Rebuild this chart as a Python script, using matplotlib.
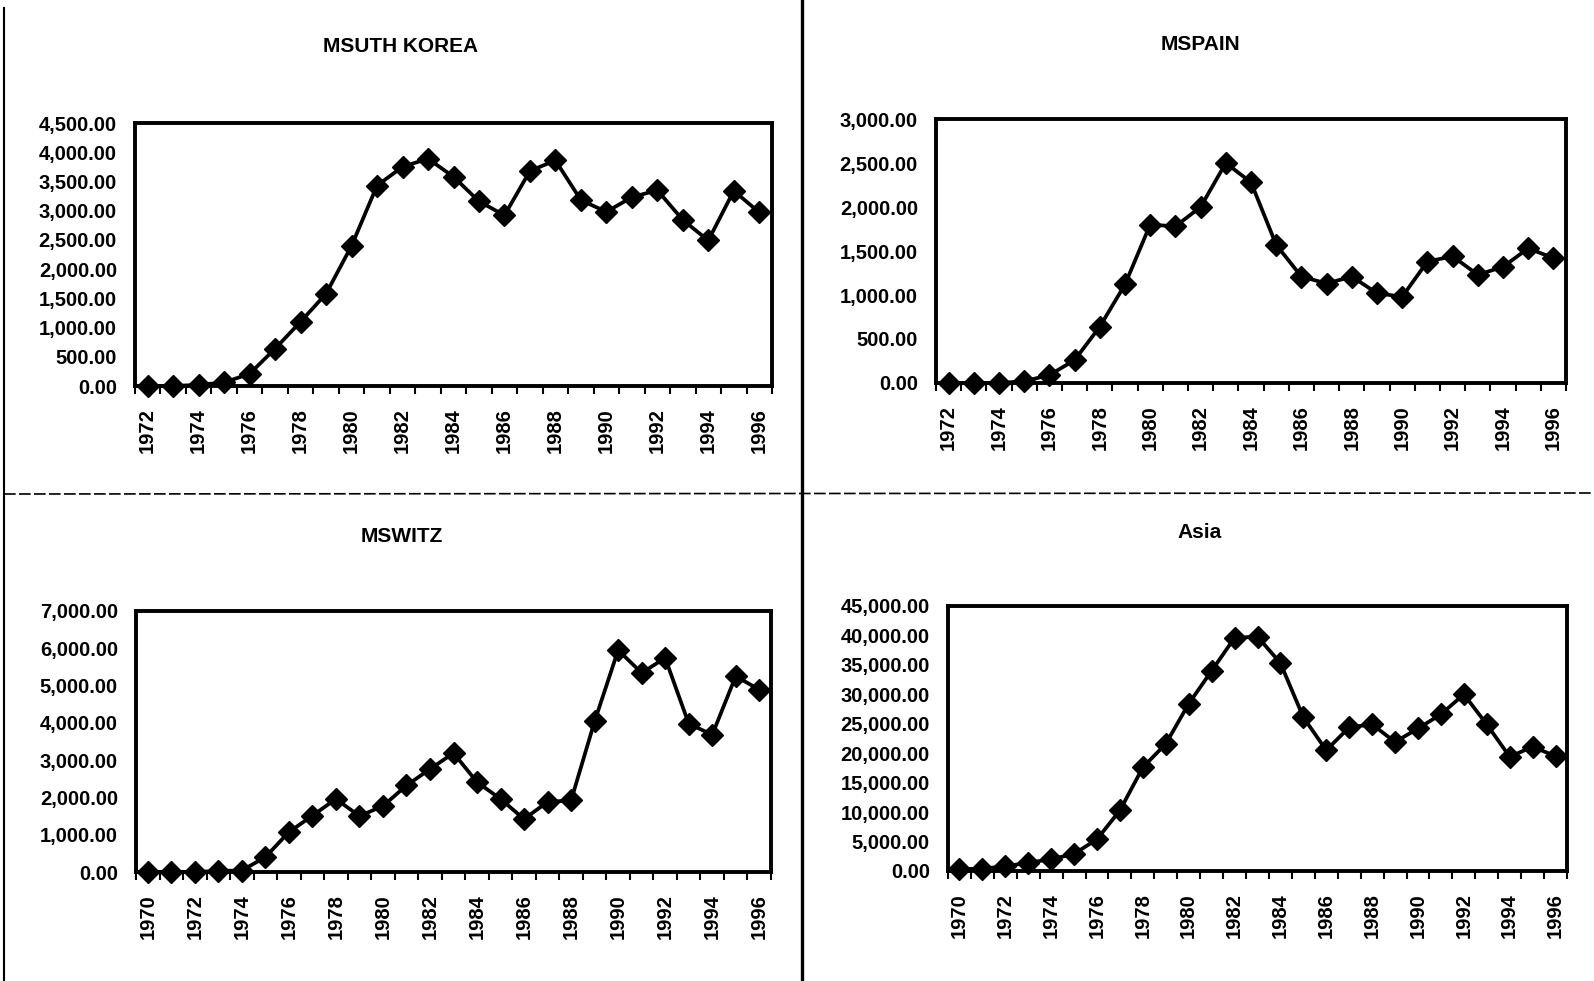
"""Four scanned Excel-style line charts: MSUTH KOREA, MSPAIN, MSWITZ, Asia."""

import matplotlib

matplotlib.use("Agg")
import matplotlib.pyplot as plt
from matplotlib.lines import Line2D
from matplotlib.ticker import FixedLocator, FuncFormatter

# ---- data ----
years_korea = list(range(1972, 1997))
msuth_korea = [0, 0, 20, 60, 210, 640, 1100, 1580, 2400, 3430, 3750, 3890, 3580,
               3160, 2920, 3680, 3860, 3180, 2980, 3230, 3350, 2840, 2490, 3340, 2970]

years_spain = list(range(1972, 1997))
mspain = [0, 0, 0, 20, 90, 260, 640, 1120, 1800, 1780, 2000, 2500, 2280,
          1570, 1210, 1130, 1210, 1020, 980, 1380, 1440, 1230, 1320, 1530, 1420]

years_switz = list(range(1970, 1997))
mswitz = [0, 0, 0, 30, 40, 400, 1070, 1510, 1960, 1500, 1770, 2320, 2760, 3190,
          2410, 1960, 1420, 1880, 1920, 4040, 5950, 5340, 5740, 3980, 3680, 5250, 4890]

years_asia = list(range(1970, 1997))
asia = [300, 400, 800, 1400, 2000, 2900, 5400, 10300, 17600, 21600, 28400, 34000,
        39600, 39800, 35300, 26100, 20500, 24400, 24900, 21900, 24200, 26600,
        30000, 24900, 19400, 21100, 19500]

titles = ["MSUTH KOREA", "MSPAIN", "MSWITZ", "Asia"]
y_max = [4500, 3000, 7000, 45000]
y_step = [500, 500, 1000, 5000]

W, H = 1594, 981
FONT = ["Liberation Sans", "DejaVu Sans"]

plt.rcParams["font.family"] = FONT
plt.rcParams["font.weight"] = "bold"

fig = plt.figure(figsize=(W / 100, H / 100), dpi=100)


def px_axes(x0, y0, x1, y1):
    """Add axes from pixel box (left, top, right, bottom)."""
    return fig.add_axes([x0 / W, 1 - y1 / H, (x1 - x0) / W, (y1 - y0) / H])


def draw_panel(ax, years, values, ymax, ystep):
    n = len(years)
    idx = list(range(n))
    ax.plot(idx, values, color="black", lw=2.7, marker="D", ms=11,
            mfc="black", mec="black", clip_on=False, zorder=3)
    ax.set_xlim(-0.5, n - 0.5)
    ax.set_ylim(0, ymax)

    # category labels on every second year, ticks between categories
    label_pos = [i for i in idx if (years[i] - years[0]) % 2 == 0]
    ax.xaxis.set_major_locator(FixedLocator(label_pos))
    ax.set_xticklabels([str(years[i]) for i in label_pos], rotation=90,
                       fontsize=14.5, fontweight="bold")
    ax.xaxis.set_minor_locator(FixedLocator([i - 0.5 for i in range(n + 1)]))
    ax.tick_params(axis="x", which="major", length=0, pad=16)
    ax.tick_params(axis="x", which="minor", length=6, width=1.5,
                   direction="out", color="black")

    ax.set_yticks(range(0, ymax + 1, ystep))
    ax.yaxis.set_major_formatter(FuncFormatter(lambda v, p: f"{v:,.2f}"))
    ax.tick_params(axis="y", length=0, pad=13, labelsize=14.5)
    for lab in ax.get_yticklabels():
        lab.set_fontweight("bold")

    for sp in ax.spines.values():
        sp.set_linewidth(2.8)
        sp.set_color("black")


boxes = [(135, 123, 772, 386), (936, 119, 1566, 383),
         (136, 611, 771, 872), (948, 606, 1567, 871)]
series = [(years_korea, msuth_korea), (years_spain, mspain),
          (years_switz, mswitz), (years_asia, asia)]
title_pos = [(401, 46), (1200, 45), (402, 537), (1200, 532)]

for box, (yrs, vals), ymax, ystep, title, (tx, ty) in zip(
        boxes, series, y_max, y_step, titles, title_pos):
    ax = px_axes(*box)
    draw_panel(ax, yrs, vals, ymax, ystep)
    fig.text(tx / W, 1 - ty / H, title, ha="center", va="center",
             fontsize=15, fontweight="bold")

# page frame lines from the scan
fig.add_artist(Line2D([4 / W, 4 / W], [0, 1 - 8 / H], transform=fig.transFigure,
                      color="black", lw=1.5))
fig.add_artist(Line2D([802 / W, 802 / W], [0, 1], transform=fig.transFigure,
                      color="black", lw=2.4))
fig.add_artist(Line2D([4 / W, 1], [1 - 494 / H, 1 - 493 / H], transform=fig.transFigure,
                      color="black", lw=1.2, ls=(0, (7, 2))))

fig.savefig("out.png", dpi=100, facecolor="white")
